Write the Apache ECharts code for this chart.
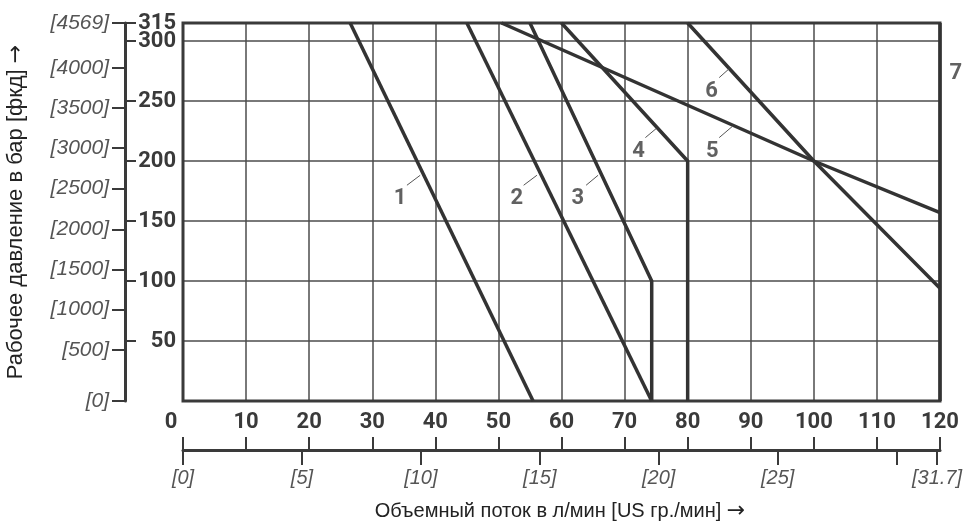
<!DOCTYPE html>
<html>
<head>
<meta charset="utf-8">
<script src="https://cdn.jsdelivr.net/npm/echarts@6/dist/echarts.min.js"></script>
<style>
html,body{margin:0;padding:0;background:#fff;}
#chart{width:965px;height:531px;}
</style>
</head>
<body>
<div id="chart"></div>
<script>
// ---- data ----
const flowMin = 0, flowMax = 120, flowStep = 10;
const pressMin = 0, pressMax = 315, pressStep = 50;

const curve1 = [[26.5, 315], [55.5, 0]];
const curve2 = [[45, 315], [74.3, 0]];
const curve3 = [[55, 315], [74.3, 100], [74.3, 0]];
const curve4 = [[60, 315], [80, 200], [80, 0]];
const curve5 = [[50.5, 315], [100, 200], [120, 157]];
const curve6 = [[80, 315], [100, 200], [120, 94]];
const curve7 = [[120, 0], [120, 315]];
const curves = [curve1, curve2, curve3, curve4, curve5, curve6, curve7];

const curveNames = ['1', '2', '3', '4', '5', '6', '7'];
const labelPos = [[34.4, 168.9], [52.9, 168.9], [62.6, 168.9], [72.2, 208.3], [83.9, 208.3], [83.8, 258.3], [122.5, 272.8]];
const leaderLines = [
  [[35.5, 179.8], [37.6, 188.1]],
  [[54.0, 179.8], [56.1, 188.1]],
  [[63.9, 179.8], [65.8, 188.1]],
  [[73.3, 219.5], [75.0, 227.0]],
  [[85.0, 219.5], [87.1, 228.9]],
  [[85.0, 269.5], [86.6, 277.0]],
  [[120.4, 267.8], [121.6, 275.6]]
];

const barTicks = [50, 100, 150, 200, 250, 300];
const barTop = [315];
const psiTickPos = [0, 42.3, 76.2, 109.5, 143, 177, 210.8, 244, 277.5, 315];
const psiLabels = ['[0]', '[500]', '[1000]', '[1500]', '[2000]', '[2500]', '[3000]', '[3500]', '[4000]', '[4569]'];
const galTickPos = [0, 18.93, 37.85, 56.78, 75.71, 94.64, 113.56, 120];
const galLabels = ['[0]', '[5]', '[10]', '[15]', '[20]', '[25]', '', '[31.7]'];

const yTitle = 'Рабочее давление в бар [фкд] {a|→}';
const xTitle = 'Объемный поток в л/мин [US гр./мин] {a|→}';

// ---- styles ----
const dark = '#3a3a3a';
const boldFont = "Roboto, 'Liberation Sans', sans-serif";
const plainFont = "'Liberation Sans', Arial, sans-serif";

function lookup(pos, labels, v) {
  for (let i = 0; i < pos.length; i++) if (Math.abs(pos[i] - v) < 1e-6) return labels[i];
  return '';
}

const series = [];
curves.forEach((c, i) => {
  series.push({
    type: 'line', xAxisIndex: 0, yAxisIndex: 0, data: c,
    symbol: 'none', clip: false, z: 5,
    lineStyle: { color: '#333', width: 3.5 }
  });
});
leaderLines.forEach(l => {
  series.push({
    type: 'line', xAxisIndex: 0, yAxisIndex: 0, data: l,
    symbol: 'none', clip: false, z: 6,
    lineStyle: { color: '#555', width: 1 }
  });
});
series.push({
  type: 'scatter', xAxisIndex: 0, yAxisIndex: 0, clip: false, z: 7,
  symbolSize: 1, itemStyle: { color: 'rgba(0,0,0,0)' },
  data: labelPos.map((p, i) => ({ name: curveNames[i], value: p })),
  label: {
    show: true, position: 'inside', formatter: p => p.name,
    fontFamily: boldFont, fontWeight: 'bold', fontSize: 22, color: '#3a3a3a'
  }
});
// dummy series for helper grids
series.push({ type: 'line', xAxisIndex: 1, yAxisIndex: 1, data: [], silent: true });
series.push({ type: 'line', xAxisIndex: 2, yAxisIndex: 2, data: [], silent: true });
series.push({ type: 'line', xAxisIndex: 3, yAxisIndex: 3, data: [], silent: true });

const hiddenAxis = { show: false };
const arrowRich = { a: { fontFamily: "'DejaVu Sans', sans-serif", fontSize: 22, color: '#222' } };

function barAxis(vals) {
  return {
    gridIndex: 3, type: 'value', min: pressMin, max: pressMax, position: 'right', offset: -1,
    axisLine: { show: false },
    axisTick: { show: true, inside: false, length: 11, customValues: vals, lineStyle: { color: dark, width: 2 } },
    axisLabel: {
      show: true, margin: 51, align: 'right', customValues: vals,
      showMinLabel: true, showMaxLabel: true, hideOverlap: false,
      fontFamily: boldFont, fontWeight: 'bold', fontSize: 22, color: '#3a3a3a'
    },
    splitLine: { show: false }
  };
}

const option = {
  animation: false,
  backgroundColor: '#fff',
  grid: [
    { left: 183, right: 25, top: 23, bottom: 130, show: true, borderColor: dark, borderWidth: 3, backgroundColor: 'transparent', z: 3 },
    { left: 183, right: 25, top: 449, height: 1 },
    { left: 183, right: 25, top: 449, height: 1 },
    { left: 125, width: 1, top: 23, bottom: 130 }
  ],
  xAxis: [
    {
      gridIndex: 0, type: 'value', min: flowMin, max: flowMax, interval: flowStep,
      axisLine: { show: false }, axisTick: { show: false }, axisLabel: { show: false },
      splitLine: { show: true, lineStyle: { color: '#4d4d4d', width: 1.5 } }
    },
    {
      gridIndex: 1, type: 'value', min: flowMin, max: flowMax, interval: flowStep, position: 'bottom',
      axisLine: { show: true, lineStyle: { color: dark, width: 3 } },
      axisTick: { show: true, inside: true, length: 13, lineStyle: { color: dark, width: 2 } },
      axisLabel: {
        show: true, inside: true, margin: 17,
        fontFamily: boldFont, fontWeight: 'bold', fontSize: 22, color: '#3a3a3a',
        formatter: v => v === 0 ? '{z|0}' : String(v),
        rich: { z: { fontFamily: boldFont, fontWeight: 'bold', fontSize: 22, color: '#3a3a3a', padding: [0, 24, 0, 0] } }
      },
      splitLine: { show: false }
    },
    {
      gridIndex: 2, type: 'value', min: flowMin, max: flowMax, position: 'bottom',
      axisLine: { show: false },
      axisTick: { show: true, inside: false, length: 15, customValues: galTickPos, lineStyle: { color: dark, width: 2 } },
      axisLabel: {
        show: true, margin: 18, customValues: galTickPos,
        fontFamily: plainFont, fontStyle: 'italic', fontSize: 20, color: '#555',
        formatter: v => lookup(galTickPos, galLabels, v)
      },
      splitLine: { show: false },
      name: xTitle, nameLocation: 'middle', nameGap: 50,
      nameTextStyle: { fontFamily: plainFont, fontSize: 20, color: '#222', rich: arrowRich }
    },
    Object.assign({ gridIndex: 3, type: 'value' }, hiddenAxis)
  ],
  yAxis: [
    {
      gridIndex: 0, type: 'value', min: pressMin, max: pressMax, interval: pressStep,
      axisLine: { show: false }, axisTick: { show: false }, axisLabel: { show: false },
      splitLine: { show: true, lineStyle: { color: '#4d4d4d', width: 1.5 } }
    },
    Object.assign({ gridIndex: 1, type: 'value' }, hiddenAxis),
    Object.assign({ gridIndex: 2, type: 'value' }, hiddenAxis),
    {
      gridIndex: 3, type: 'value', min: pressMin, max: pressMax, position: 'left',
      axisLine: { show: true, lineStyle: { color: dark, width: 3 } },
      axisTick: { show: true, inside: false, length: 13, customValues: psiTickPos, lineStyle: { color: dark, width: 2 } },
      axisLabel: {
        show: true, margin: 16, customValues: psiTickPos,
        fontFamily: plainFont, fontStyle: 'italic', fontSize: 21, color: '#555',
        formatter: v => lookup(psiTickPos, psiLabels, v)
      },
      splitLine: { show: false },
      name: yTitle, nameLocation: 'middle', nameGap: 98, nameRotate: 90,
      nameTextStyle: { fontFamily: plainFont, fontSize: 22, color: '#222', rich: arrowRich }
    },
    barAxis(barTicks),
    barAxis(barTop)
  ],
  series: series
};

const chart = echarts.init(document.getElementById('chart'), null, { renderer: 'canvas' });
chart.setOption(option);
</script>
</body>
</html>
